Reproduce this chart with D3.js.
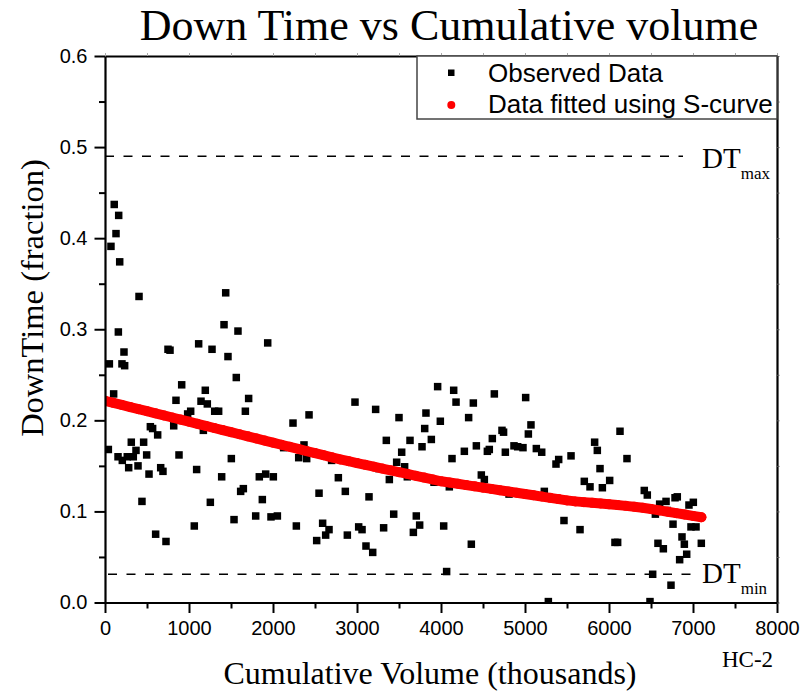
<!DOCTYPE html>
<html>
<head>
<meta charset="utf-8">
<script src="https://cdn.jsdelivr.net/npm/d3@7"></script>
<style>
  body { margin: 0; background: #fff; }
  svg { display: block; }
</style>
</head>
<body>
<svg></svg>
<script>
// observed data (cumulative volume in thousands, downtime fraction)
const obsX = [110, 163, 131, 71, 175, 405, 1437, 159, 1417, 1583, 1937, 750, 774, 1115, 1274, 226, 1464, 52, 202, 234,
  1563, 913, 1194, 103, 845, 1143, 1218, 1710, 1306, 1353, 1671, 1020, 984, 2238, 2429, 540, 567, 818, 1171,
  40, 627, 313, 460, 369, 155, 206, 265, 337, 496, 282, 393, 524, 663, 690, 881, 1091, 1504, 1389, 1837, 1913, 2004,
  2127, 2369, 2306, 2401, 2698, 2778, 2861, 2548, 440, 1254, 1615, 1647, 1873, 1536, 1794, 1976, 2052, 1063, 2278,
  2591, 2667, 2627, 2520, 2885, 603, 726,
  3960, 4151, 2976, 3222, 3500, 3821, 4179, 4385, 4635, 5008, 3992, 4329, 5071, 3806, 4726,
  4745, 5040, 3349, 3631, 3885, 3774, 3532, 4278, 4421, 4552, 4575, 4611, 4766, 4869, 4913, 4976, 5135, 5199,
  3143, 3262, 3385, 3472, 3567, 3599, 3917, 4099, 4131, 4480, 4516, 4810, 4841, 5230, 5369, 5401, 5548, 5464, 5655,
  3437, 3706, 3746, 3671, 3317, 4032, 3020, 3060, 3107, 3187, 4361, 4067, 5278,
  6131, 5829, 5861, 6214, 5893, 5706, 5774, 6008, 5921, 6420, 6456, 6310, 6603, 6679, 6786, 6813, 6952, 7004, 6694,
  6552, 6762, 6976, 7036, 6869, 6897, 7099, 6925, 6841, 6071, 6103, 6583, 6647, 6520, 6738, 6488];
const obsY = [0.437, 0.425, 0.405, 0.391, 0.374, 0.336, 0.340, 0.297, 0.305, 0.298, 0.285, 0.278, 0.277, 0.284, 0.278, 0.275, 0.270, 0.262, 0.262, 0.260,
  0.247, 0.239, 0.233, 0.229, 0.222, 0.221, 0.218, 0.224, 0.210, 0.210, 0.210, 0.210, 0.207, 0.197, 0.206, 0.193, 0.191, 0.194, 0.189,
  0.168, 0.184, 0.176, 0.176, 0.167, 0.160, 0.156, 0.160, 0.160, 0.162, 0.148, 0.150, 0.141, 0.148, 0.144, 0.162, 0.146, 0.158, 0.138, 0.138, 0.141, 0.138,
  0.170, 0.173, 0.159, 0.158, 0.156, 0.137, 0.122, 0.120, 0.111, 0.110, 0.122, 0.125, 0.113, 0.091, 0.095, 0.094, 0.095, 0.084, 0.084,
  0.087, 0.080, 0.074, 0.068, 0.074, 0.075, 0.067,
  0.237, 0.233, 0.220, 0.212, 0.203, 0.208, 0.220, 0.219, 0.229, 0.225, 0.199, 0.203, 0.195, 0.191, 0.189,
  0.187, 0.185, 0.178, 0.178, 0.179, 0.171, 0.165, 0.166, 0.172, 0.166, 0.168, 0.180, 0.165, 0.172, 0.171, 0.170, 0.169, 0.165,
  0.116, 0.147, 0.135, 0.154, 0.149, 0.138, 0.132, 0.127, 0.158, 0.140, 0.135, 0.119, 0.121, 0.122, 0.152, 0.157, 0.161, 0.090, 0.080,
  0.097, 0.095, 0.085, 0.077, 0.082, 0.084, 0.083, 0.080, 0.062, 0.055, 0.064, 0.034, 0.001,
  0.188, 0.176, 0.167, 0.158, 0.147, 0.133, 0.127, 0.134, 0.126, 0.123, 0.118, 0.105, 0.108, 0.111, 0.115, 0.116, 0.107, 0.110, 0.101,
  0.097, 0.086, 0.083, 0.083, 0.072, 0.064, 0.065, 0.053, 0.047, 0.066, 0.066, 0.065, 0.059, 0.031, 0.019, 0.001];

// S-curve fit
const fitX = [0, 100, 200, 300, 400, 500, 600, 700, 800, 900, 1000, 1100, 1200, 1300, 1400, 1500, 1600, 1700,
  1800, 1900, 2000, 2100, 2200, 2300, 2400, 2500, 2600, 2700, 2800, 2900, 3000, 3100, 3200, 3300, 3400, 3500,
  3600, 3700, 3800, 3900, 4000, 4100, 4200, 4300, 4400, 4500, 4600, 4700, 4800, 4900, 5000, 5100, 5200, 5300,
  5400, 5500, 5600, 5700, 5800, 5900, 6000, 6100, 6200, 6300, 6400, 6500, 6600, 6700, 6800, 6900, 7000, 7100];
const fitY = [0.2215, 0.2192, 0.2169, 0.2146, 0.2123, 0.2100, 0.2077, 0.2054, 0.2031, 0.2008, 0.1985, 0.1962, 0.1939, 0.1916, 0.1893, 0.1870, 0.1847, 0.1824,
  0.1801, 0.1778, 0.1755, 0.1732, 0.1709, 0.1686, 0.1663, 0.1640, 0.1617, 0.1594, 0.1571, 0.1551, 0.1531, 0.1511, 0.1491, 0.1471, 0.1451, 0.1431,
  0.1411, 0.1391, 0.1371, 0.1351, 0.1331, 0.1317, 0.1303, 0.1289, 0.1275, 0.1261, 0.1247, 0.1233, 0.1219, 0.1205, 0.1191, 0.1177, 0.1163, 0.1149,
  0.1135, 0.1121, 0.1110, 0.1102, 0.1094, 0.1086, 0.1078, 0.1070, 0.1061, 0.1052, 0.1040, 0.1026, 0.1011, 0.0996, 0.0981, 0.0966, 0.0951, 0.0936];

const dtMax = 0.49;
const dtMin = 0.031;
const xTicks = [0, 1000, 2000, 3000, 4000, 5000, 6000, 7000, 8000];
const yTicks = [0, 0.1, 0.2, 0.3, 0.4, 0.5, 0.6];

const width = 803;
const height = 696;
const margin = { top: 56, right: 26, bottom: 93.5, left: 105 };

const svg = d3.select('svg')
    .attr('width', width)
    .attr('height', height);

const x = d3.scaleLinear().domain([0, 8000]).range([margin.left, width - margin.right]);
const y = d3.scaleLinear().domain([0, 0.6]).range([height - margin.bottom, margin.top]);

const sans = 'Arial, "Liberation Sans", sans-serif';
const serif = '"Times New Roman", "Liberation Serif", serif';

svg.append('clipPath').attr('id', 'plot')
  .append('rect')
    .attr('x', x(0)).attr('y', y(0.6))
    .attr('width', x(8000) - x(0)).attr('height', y(0) - y(0.6));

// dashed DT limits
svg.append('line')
    .attr('x1', x(0)).attr('x2', x(7000) - 10)
    .attr('y1', y(dtMax)).attr('y2', y(dtMax))
    .attr('stroke', '#000').attr('stroke-width', 1.6).attr('stroke-dasharray', '9,9.5');
svg.append('line')
    .attr('x1', x(0) + 3).attr('x2', x(7000) + 6)
    .attr('y1', y(dtMin)).attr('y2', y(dtMin))
    .attr('stroke', '#000').attr('stroke-width', 1.6).attr('stroke-dasharray', '9,9.5');

const marks = svg.append('g').attr('clip-path', 'url(#plot)');

// observed squares
marks.selectAll('rect.obs')
  .data(obsX.map((d, i) => [d, obsY[i]]))
  .enter().append('rect')
    .attr('class', 'obs')
    .attr('x', d => x(d[0]) - 3.75)
    .attr('y', d => y(d[1]) - 3.75)
    .attr('width', 7.5).attr('height', 7.5)
    .attr('fill', '#000');

// fitted curve: red dots with a band behind them
const fit = fitX.map((d, i) => [d, fitY[i]]);
marks.append('path')
    .attr('d', d3.line().x(d => x(d[0])).y(d => y(d[1]))(fit))
    .attr('fill', 'none')
    .attr('stroke', '#f00')
    .attr('stroke-width', 10)
    .attr('stroke-linecap', 'round');
marks.selectAll('circle.fit')
  .data(fit)
  .enter().append('circle')
    .attr('class', 'fit')
    .attr('cx', d => x(d[0]))
    .attr('cy', d => y(d[1]))
    .attr('r', 5)
    .attr('fill', '#f00');

// axes
const styleAxis = g => {
  g.select('.domain').attr('stroke-width', 2.2);
  g.selectAll('.tick line').attr('stroke-width', 2);
  g.selectAll('text').attr('font-family', sans).attr('font-size', 20).attr('fill', '#000');
};

svg.append('g')
    .attr('transform', `translate(0,${y(0)})`)
    .call(d3.axisBottom(x).tickValues(xTicks).tickSize(10.5).tickPadding(8).tickSizeOuter(0).tickFormat(d3.format('d')))
    .call(styleAxis);
svg.append('g')
    .attr('transform', `translate(0,${y(0)})`)
    .call(d3.axisBottom(x).tickValues(xTicks.slice(0, -1).map(d => d + 500)).tickSize(6).tickFormat(''))
    .call(g => g.select('.domain').remove())
    .call(g => g.selectAll('.tick line').attr('stroke-width', 2));

svg.append('g')
    .attr('transform', `translate(${x(0)},0)`)
    .call(d3.axisLeft(y).tickValues(yTicks).tickSize(10.5).tickPadding(7).tickSizeOuter(0).tickFormat(d3.format('.1f')))
    .call(styleAxis);
svg.append('g')
    .attr('transform', `translate(${x(0)},0)`)
    .call(d3.axisLeft(y).tickValues(yTicks.slice(0, -1).map(d => d + 0.05)).tickSize(6).tickFormat(''))
    .call(g => g.select('.domain').remove())
    .call(g => g.selectAll('.tick line').attr('stroke-width', 2));

// frame: top and right
svg.append('g')
    .attr('transform', `translate(0,${y(0.6)})`)
    .call(d3.axisTop(x).ticks(16).tickSize(3).tickSizeOuter(0).tickFormat(''))
    .call(g => g.select('.domain').attr('stroke-width', 2.2))
    .call(g => g.selectAll('.tick line').attr('stroke', '#aaa'));
svg.append('g')
    .attr('transform', `translate(${x(8000)},0)`)
    .call(d3.axisRight(y).ticks(12).tickSize(2.5).tickSizeOuter(0).tickFormat(''))
    .call(g => g.select('.domain').attr('stroke-width', 2.2))
    .call(g => g.selectAll('.tick line').attr('stroke', '#555'));

// legend
const legend = svg.append('g');
legend.append('rect')
    .attr('x', 417).attr('y', y(0.6))
    .attr('width', x(8000) - 417).attr('height', 63)
    .attr('fill', '#fff').attr('stroke', '#444').attr('stroke-width', 1.5);
legend.append('rect')
    .attr('x', 448).attr('y', 69.5).attr('width', 6.5).attr('height', 6.5).attr('fill', '#000');
legend.append('circle')
    .attr('cx', 451.3).attr('cy', 105).attr('r', 4).attr('fill', '#f00');
legend.append('text')
    .attr('x', 488).attr('y', 82)
    .attr('font-family', sans).attr('font-size', 26)
    .text('Observed Data');
legend.append('text')
    .attr('x', 488).attr('y', 113)
    .attr('font-family', sans).attr('font-size', 26)
    .text('Data fitted using S-curve');

// titles
svg.append('text')
    .attr('x', 449).attr('y', 40)
    .attr('text-anchor', 'middle')
    .attr('font-family', serif).attr('font-size', 44)
    .text('Down Time vs Cumulative volume');

svg.append('text')
    .attr('transform', 'translate(43,298) rotate(-90)')
    .attr('text-anchor', 'middle')
    .attr('font-family', serif).attr('font-size', 32.5)
    .text('DownTime (fraction)');

svg.append('text')
    .attr('x', 430).attr('y', 684)
    .attr('text-anchor', 'middle')
    .attr('font-family', serif).attr('font-size', 32)
    .text('Cumulative Volume (thousands)');

svg.append('text')
    .attr('x', 722).attr('y', 667)
    .attr('font-family', serif).attr('font-size', 23)
    .text('HC-2');

// DT labels
const dtLabel = (yy, sub) => {
  const t = svg.append('text')
      .attr('x', 702).attr('y', yy)
      .attr('font-family', serif).attr('font-size', 29);
  t.append('tspan').text('DT');
  t.append('tspan').attr('font-size', 17).attr('dy', 11).text(sub);
};
dtLabel(168, 'max');
dtLabel(583, 'min');
</script>
</body>
</html>
